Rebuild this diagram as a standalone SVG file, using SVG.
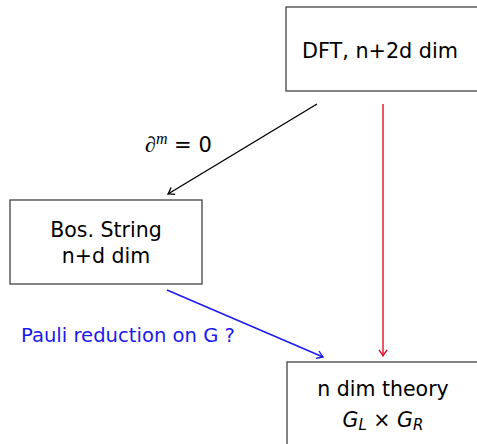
<svg xmlns="http://www.w3.org/2000/svg" width="477" height="444" viewBox="0 0 477 444">
<style>
.box{fill:#fff;stroke:#333;stroke-width:1.2}
.t{font-family:"DejaVu Sans","Liberation Sans",sans-serif;font-size:20.5px;fill:#000;text-anchor:middle}
.conn{fill:none;stroke-width:1.4}
</style>
<defs>
<marker id="ak" markerWidth="10" markerHeight="10" refX="0" refY="0" viewBox="-8 -5 10 10" orient="auto" markerUnits="userSpaceOnUse">
<path d="M-6,-4 Q-2,-1 0,0 Q-2,1 -6,4" fill="none" stroke="#000" stroke-width="1.3"/>
</marker>
<marker id="ar" markerWidth="10" markerHeight="10" refX="0" refY="0" viewBox="-8 -5 10 10" orient="auto" markerUnits="userSpaceOnUse">
<path d="M-6,-4 Q-2,-1 0,0 Q-2,1 -6,4" fill="none" stroke="#e0102c" stroke-width="1.3"/>
</marker>
<marker id="ab" markerWidth="10" markerHeight="10" refX="0" refY="0" viewBox="-8 -5 10 10" orient="auto" markerUnits="userSpaceOnUse">
<path d="M-6,-4 Q-2,-1 0,0 Q-2,1 -6,4" fill="none" stroke="#1a1aee" stroke-width="1.3"/>
</marker>
</defs>
<g id="connectors">
<line class="conn" x1="317" y1="104" x2="168" y2="194" stroke="#000" marker-end="url(#ak)"/>
<line class="conn" x1="383" y1="104" x2="383" y2="356" stroke="#e0102c" marker-end="url(#ar)"/>
<line class="conn" x1="167" y1="290" x2="323" y2="357" stroke="#1a1aee" marker-end="url(#ab)"/>
<text x="145" y="152" font-family="Liberation Serif, serif" font-size="22" fill="#000">∂<tspan font-style="italic" font-size="16" dy="-8">m</tspan><tspan dy="8" font-family="DejaVu Sans, sans-serif" font-size="21"> = 0</tspan></text>
<text x="21" y="342" font-family="DejaVu Sans, sans-serif" font-size="20" fill="#1a1aee" textLength="214" lengthAdjust="spacingAndGlyphs">Pauli reduction on G ?</text>
</g>
<g id="dft">
<rect class="box" x="286" y="7" width="200" height="84"/>
<text class="t" x="380" y="58" textLength="156" lengthAdjust="spacingAndGlyphs">DFT, n+2d dim</text>
</g>
<g id="bos">
<rect class="box" x="10" y="200" width="192" height="84"/>
<text class="t" x="106" y="237">Bos. String</text>
<text class="t" x="106" y="263">n+d dim</text>
</g>
<g id="ndim">
<rect class="box" x="287" y="362" width="200" height="100"/>
<text class="t" x="383" y="396">n dim theory</text>
<text class="t" x="383" y="427" font-style="italic">G<tspan font-size="15" dy="3">L</tspan><tspan font-style="normal" dy="-3"> × </tspan>G<tspan font-size="15" dy="3">R</tspan></text>
</g>
</svg>
